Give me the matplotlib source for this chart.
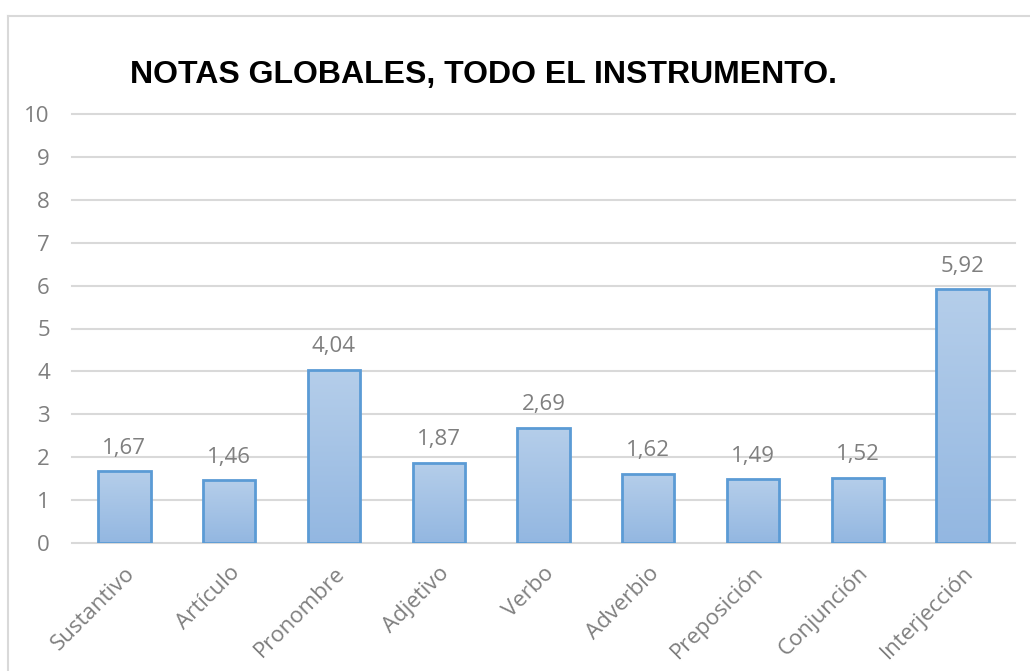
import numpy as np
import matplotlib
matplotlib.use("Agg")
import matplotlib.pyplot as plt
from matplotlib.lines import Line2D
from matplotlib.colors import LinearSegmentedColormap

categorias = ["Sustantivo", "Artículo", "Pronombre", "Adjetivo", "Verbo",
              "Adverbio", "Preposición", "Conjunción", "Interjección"]
notas = [1.67, 1.46, 4.04, 1.87, 2.69, 1.62, 1.49, 1.52, 5.92]
y_ticks = list(range(0, 11))
titulo = "NOTAS GLOBALES, TODO EL INSTRUMENTO."

W, H = 1030, 671
fig = plt.figure(figsize=(W / 100, H / 100), dpi=100)
fig.patch.set_facecolor("white")

ax = fig.add_axes([72 / W, (H - 543) / H, (1015 - 72) / W, (543 - 114) / H])
label_font = "Open Sans"
gray = "#7F7F7F"

x = np.arange(len(categorias))
bars = ax.bar(x, notas, width=0.5, color="none", edgecolor="#5B9BD5",
              linewidth=2, zorder=3)

# vertical gradient inside each bar
grad_cmap = LinearSegmentedColormap.from_list("barfill", ["#93B7E1", "#B5CEEA"])
grad = np.linspace(0, 1, 256).reshape(-1, 1)
for b in bars:
    x0, y0 = b.get_x(), b.get_y()
    w, h = b.get_width(), b.get_height()
    im = ax.imshow(grad, cmap=grad_cmap, origin="lower", aspect="auto",
                   extent=[x0, x0 + w, y0, y0 + h], zorder=2)
    im.set_clip_path(b)

for xi, v in zip(x, notas):
    ax.annotate(f"{v:.2f}".replace(".", ","), (xi, v), xytext=(0, 9),
                textcoords="offset points", ha="center", va="bottom",
                fontsize=16, color=gray, family=label_font)

ax.set_xlim(-0.5, len(categorias) - 0.5)
ax.set_ylim(0, 10)
ax.set_yticks(y_ticks)
ax.set_yticklabels([str(t) for t in y_ticks], fontsize=16, color=gray,
                   family=label_font)
ax.set_xticks(x)
ax.set_xticklabels(categorias, rotation=45, ha="right", rotation_mode="anchor",
                   fontsize=16, color=gray, family=label_font)
ax.tick_params(axis="both", length=0)
ax.tick_params(axis="y", pad=16)
ax.tick_params(axis="x", pad=14)

for t in y_ticks:
    ax.axhline(t, color="#D9D9D9", linewidth=1.5, zorder=1, clip_on=False)
for s in ax.spines.values():
    s.set_visible(False)

fig.text(484 / W, 1 - 75 / H, titulo, ha="center", va="center",
         fontsize=23, fontweight="bold", family="Liberation Sans", color="black")

# chart frame
fig.add_artist(Line2D([8 / W, 1.0], [1 - 16 / H, 1 - 16 / H],
                      color="#D9D9D9", linewidth=1.5, transform=fig.transFigure))
fig.add_artist(Line2D([8 / W, 8 / W], [0, 1 - 16 / H],
                      color="#D9D9D9", linewidth=1.5, transform=fig.transFigure))

fig.savefig("out.png", dpi=100, facecolor="white")
